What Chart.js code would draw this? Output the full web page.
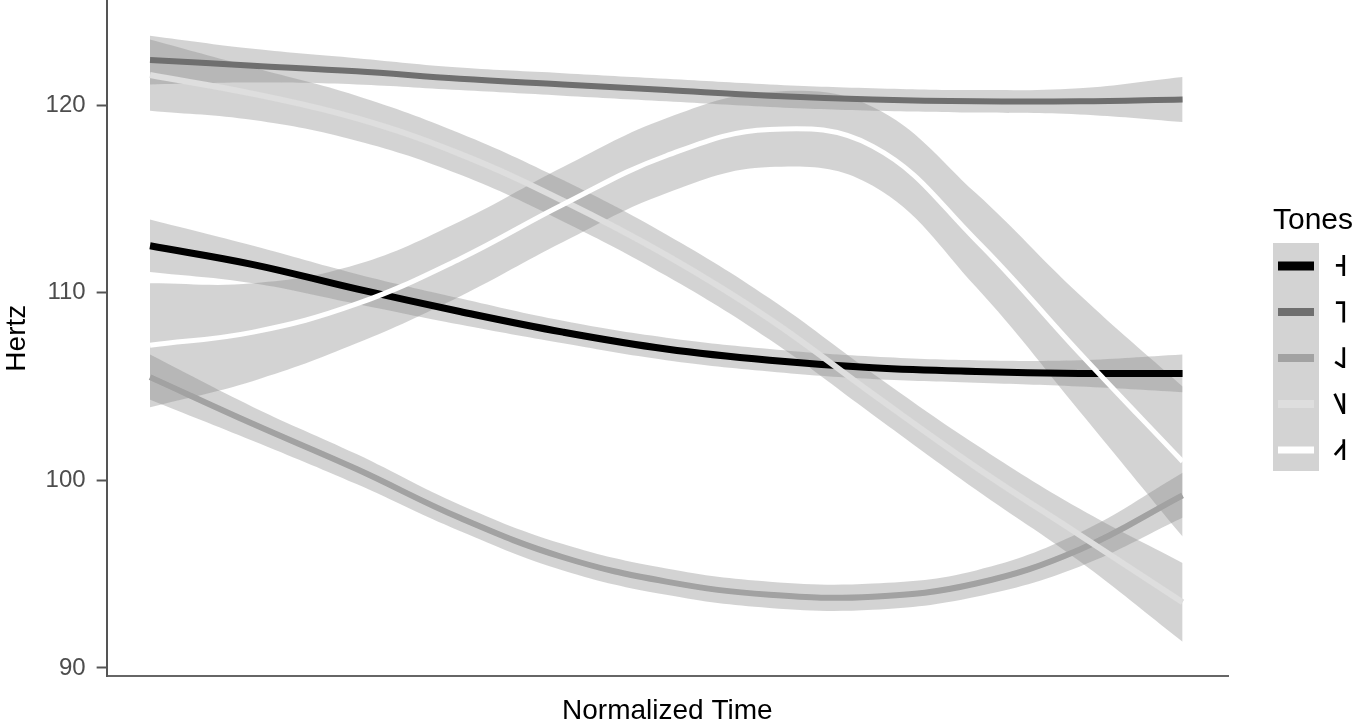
<!DOCTYPE html>
<html>
<head>
<meta charset="utf-8">
<script src="https://cdn.jsdelivr.net/npm/chart.js@4"></script>
<style>
  html, body { margin: 0; padding: 0; background: #fff; }
  #wrap { width: 1359px; height: 728px; }
</style>
</head>
<body>
<div id="wrap"><canvas id="toneChart"></canvas></div>
<script>
const times = [0, 10, 20, 30, 40, 50, 60, 70, 80, 90, 100];
const yTicks = [90, 100, 110, 120];
const toneNames = ['˧', '˥', '˨˩', '˥˩', '˨˦'];
const toneColors = ['#000000', '#6f6f6f', '#a2a2a2', '#dedede', '#ffffff'];

// smoothed pitch per tone (Hz)
const tone1 = [112.5, 111.5, 110.2, 109.0, 107.9, 107.0, 106.4, 106.0, 105.8, 105.7, 105.7];
const tone2 = [122.4, 122.1, 121.8, 121.4, 121.1, 120.8, 120.5, 120.3, 120.2, 120.2, 120.3];
const tone3 = [105.5, 103.0, 100.6, 98.0, 95.9, 94.6, 93.9, 93.8, 94.5, 96.3, 99.2];
const tone4 = [121.6, 120.6, 119.3, 117.4, 114.9, 112.0, 108.6, 104.6, 100.7, 97.1, 93.5];
const tone5 = [107.2, 107.9, 109.4, 111.8, 114.7, 117.3, 118.7, 117.8, 112.8, 106.8, 101.0];

// half width of the confidence band
const band1 = [1.4, 1.0, 0.8, 0.7, 0.6, 0.6, 0.6, 0.6, 0.6, 0.7, 1.0];
const band2 = [1.3, 0.9, 0.7, 0.6, 0.6, 0.6, 0.6, 0.6, 0.6, 0.7, 1.2];
const band3 = [1.2, 0.9, 0.8, 0.7, 0.7, 0.7, 0.7, 0.7, 0.7, 0.9, 1.2];
const band4 = [1.9, 1.4, 1.2, 1.1, 1.1, 1.1, 1.1, 1.1, 1.2, 1.4, 2.1];
const band5 = [3.3, 2.6, 2.1, 2.0, 2.0, 2.0, 2.0, 2.1, 2.5, 3.1, 4.0];

const fits = [tone1, tone2, tone3, tone4, tone5];
const bands = [band1, band2, band3, band4, band5];
const lineWidths = [7, 6, 6, 6, 5];

const pts = arr => arr.map((v, i) => ({ x: times[i], y: v }));

const datasets = [];
fits.forEach((f, k) => {
  datasets.push({
    label: toneNames[k],
    data: pts(f),
    borderColor: toneColors[k],
    backgroundColor: toneColors[k],
    borderWidth: lineWidths[k],
    pointRadius: 0,
    tension: 0.4,
    fill: false,
    order: 5 - k
  });
});
fits.forEach((f, k) => {
  const hi = f.map((v, i) => v + bands[k][i]);
  const lo = f.map((v, i) => v - bands[k][i]);
  datasets.push({
    label: 'hi' + k, data: pts(hi), borderWidth: 0, pointRadius: 0, tension: 0.4,
    borderColor: 'rgba(0,0,0,0)', backgroundColor: 'rgba(140,140,140,0.38)',
    fill: '+1', order: 20
  });
  datasets.push({
    label: 'lo' + k, data: pts(lo), borderWidth: 0, pointRadius: 0, tension: 0.4,
    borderColor: 'rgba(0,0,0,0)', fill: false, order: 20
  });
});

// ggplot style legend on the right, keys on a grey strip
const toneLegend = {
  id: 'toneLegend',
  afterDraw(chart) {
    const ctx = chart.ctx;
    const left = chart.chartArea.right + 45;
    const top = 243, step = 46;
    ctx.save();
    ctx.fillStyle = '#000';
    ctx.font = '30px "Liberation Sans"';
    ctx.textBaseline = 'middle';
    ctx.textAlign = 'left';
    ctx.fillText('Tones', left, 221);
    ctx.fillStyle = '#d3d3d3';
    ctx.fillRect(left, top, 46, 228);
    ctx.font = 'bold 30px "DejaVu Sans"';
    chart.data.datasets.slice(0, 5).forEach((ds, k) => {
      const cy = top + 23 + k * step;
      const h = ds.borderWidth + 2;
      ctx.fillStyle = ds.borderColor;
      ctx.fillRect(left + 5, cy - h / 2, 36, h);
      ctx.fillStyle = '#000';
      ctx.fillText(ds.label, left + 60, cy + 2);
    });
    ctx.restore();
  }
};

new Chart(document.getElementById('toneChart'), {
  type: 'line',
  data: { datasets },
  plugins: [toneLegend],
  options: {
    responsive: true,
    maintainAspectRatio: false,
    animation: false,
    layout: { padding: { left: 0, right: 131, top: 0, bottom: 0 } },
    plugins: {
      tooltip: { enabled: false },
      legend: { display: false }
    },
    scales: {
      x: {
        type: 'linear',
        min: -4.2,
        max: 104.4,
        grid: { display: false, drawTicks: false },
        border: { display: true, color: '#666', width: 2 },
        ticks: { display: false },
        title: { display: true, text: 'Normalized Time', color: '#000', font: { family: 'Liberation Sans', size: 28 }, padding: { top: 18, bottom: 0 } },
        afterFit: axis => { axis.paddingLeft = 0; axis.paddingRight = 0; }
      },
      y: {
        min: 89.55,
        max: 125.6,
        afterBuildTicks: axis => { axis.ticks = yTicks.map(v => ({ value: v })); },
        afterFit: axis => { axis.paddingTop = 0; axis.paddingBottom = 0; },
        grid: { display: true, drawOnChartArea: false, drawTicks: true, tickLength: 10, color: '#555', tickWidth: 2 },
        border: { display: true, color: '#555', width: 2 },
        ticks: { color: '#4d4d4d', font: { family: 'Liberation Sans', size: 24 }, padding: 11 },
        title: { display: true, text: 'Hertz', color: '#000', font: { family: 'Liberation Sans', size: 28 }, padding: { top: 0, bottom: 1 } }
      }
    }
  }
});
</script>
</body>
</html>
